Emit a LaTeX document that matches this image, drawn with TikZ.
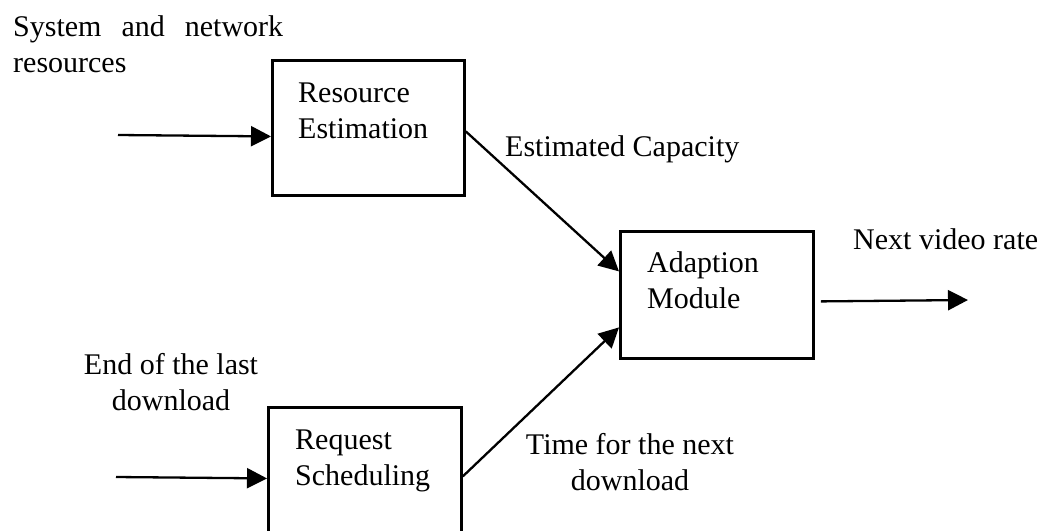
\documentclass[tikz,border=0pt]{standalone}
\usepackage{fontspec}
\setmainfont{Liberation Serif}
\usetikzlibrary{arrows.meta,calc}
\begin{document}
\begin{tikzpicture}[x=1pt,y=-1pt,
  blockbox/.style={draw,line width=2.8pt,anchor=north west,inner sep=0pt,
    minimum width=192pt,minimum height=135pt},
  lbl/.style={font=\fontsize{30}{36}\selectfont,inner sep=0pt,anchor=base west,align=left},
  clbl/.style={lbl,anchor=base,align=center},
  flow/.style={line width=2.3pt,-{Triangle[length=20pt,width=20pt]}}]
\useasboundingbox (0,0) rectangle (1051,530);
\clip (0,0) rectangle (1051,530);

% processing blocks
\node[blockbox] (rest) at (271,59) {};
\node[blockbox,minimum width=193pt] (req) at (267,406) {};
\node[blockbox,minimum width=193pt,minimum height=127pt] (adapt) at (619,230) {};

% block titles (placed by the baseline of their last line)
\node[lbl] (resttxt) at (298,138) {Resource\\Estimation};
\node[lbl] (reqtxt) at (295,485) {Request\\Scheduling};
\node[lbl] (adapttxt) at (647,308) {Adaption\\Module};

% signal labels
\node[lbl] (sysin) at (13,72) {\makebox[270pt][s]{System and network}\\resources};
\node[clbl] (endin) at (171,410) {End of the last\\download};
\node[lbl] (capl) at (505,156) {Estimated Capacity};
\node[clbl] (timel) at (630,490) {Time for the next\\download};
\node[lbl] (ratel) at (853,249) {Next video rate};

% free ends of the outer signals
\coordinate (sysstart) at (118,135);
\coordinate (endstart) at (116,477);
\coordinate (rateend) at (968,300);

% connectors
\draw[flow] (sysstart) -- ([yshift=-8.5pt]rest.west);
\draw[flow] (endstart) -- ([yshift=-3.5pt]req.west);
\draw[flow] ([yshift=-3.5pt]rest.east) -- ([yshift=23.5pt]adapt.west);
\draw[flow] ([yshift=-1.5pt]req.east) -- ([yshift=-32.5pt]adapt.west);
\draw[flow] ([xshift=6pt,yshift=-6.5pt]adapt.east) -- (rateend);
\end{tikzpicture}
\end{document}
